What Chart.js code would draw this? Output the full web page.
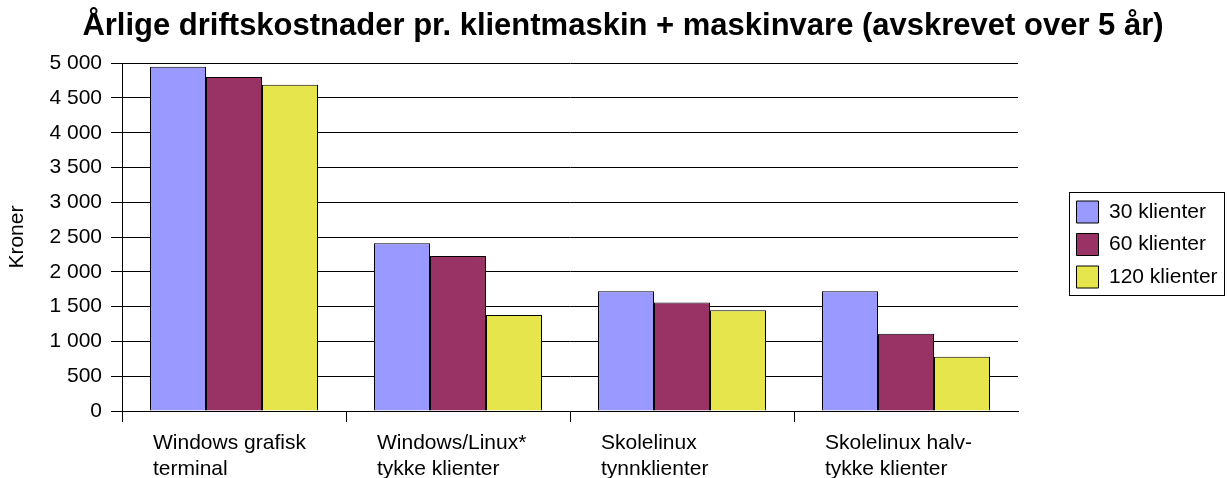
<!DOCTYPE html>
<html>
<head>
<meta charset="utf-8">
<script src="https://cdn.jsdelivr.net/npm/chart.js@4.4.1/dist/chart.umd.min.js"></script>
<style>
  html, body { margin: 0; padding: 0; background: #fff; }
  #wrap { width: 1228px; height: 478px; }
</style>
</head>
<body>
<div id="wrap"><canvas id="bar-chart" width="1228" height="478"></canvas></div>
<script>
const categories = [
  ['Windows grafisk', 'terminal'],
  ['Windows/Linux*', 'tykke klienter'],
  ['Skolelinux', 'tynnklienter'],
  ['Skolelinux halv-', 'tykke klienter']
];
const seriesNames = ['30 klienter', '60 klienter', '120 klienter'];
const values30 = [4950, 2410, 1720, 1720];
const values60 = [4800, 2230, 1560, 1110];
const values120 = [4690, 1380, 1450, 780];
const seriesColors = ['#9999ff', '#993366', '#e6e64c'];

const yMin = 0, yMax = 5000, yStep = 500;

function kroner(v) {
  if (v < 1000) return String(v);
  return Math.floor(v / 1000) + ' ' + String(v % 1000).padStart(3, '0');
}

Chart.defaults.font.family = "'Liberation Sans', Arial, sans-serif";
Chart.defaults.color = '#000';

// nudges legend / title into the places they have in the original
const layoutFix = {
  id: 'layoutFix',
  beforeLayout(chart) {
    const lg = chart.legend;
    if (lg && !lg._fixed) {
      const fit = lg.fit.bind(lg);
      lg.fit = function () { fit(); this.width = 210; };
      lg._fixed = true;
    }
  },
  afterLayout(chart) {
    const lg = chart.legend;
    lg.left += 48; lg.right += 48;
    lg.top += 5.5; lg.bottom += 5.5;
    const t = chart.titleBlock;
    t.left += 9; t.right += 9;
  },
  afterDraw(chart) {
    const hb = chart.legend.legendHitBoxes;
    if (!hb || !hb.length) return;
    const ctx = chart.ctx;
    const x = hb[0].left - 8, y = hb[0].top - 9;
    const h = hb[hb.length - 1].top + 22 + 7 - y;
    ctx.save();
    ctx.strokeStyle = '#000';
    ctx.lineWidth = 1;
    ctx.strokeRect(Math.round(x) + 0.5, Math.round(y) + 0.5, 155, Math.round(h));
    ctx.restore();
  }
};

new Chart(document.getElementById('bar-chart'), {
  type: 'bar',
  data: {
    labels: categories,
    datasets: [
      { label: seriesNames[0], data: values30, backgroundColor: seriesColors[0] },
      { label: seriesNames[1], data: values60, backgroundColor: seriesColors[1] },
      { label: seriesNames[2], data: values120, backgroundColor: seriesColors[2] }
    ]
  },
  options: {
    responsive: false,
    animation: false,
    layout: { padding: 0 },
    datasets: {
      bar: {
        borderColor: '#000',
        borderWidth: 1,
        categoryPercentage: 0.75,
        barPercentage: 1
      }
    },
    plugins: {
      title: {
        display: true,
        text: 'Årlige driftskostnader pr. klientmaskin + maskinvare (avskrevet over 5 år)',
        font: { size: 31, weight: 'bold' },
        color: '#000',
        padding: { top: 8, bottom: 18 }
      },
      legend: {
        position: 'right',
        labels: {
          boxWidth: 22,
          boxHeight: 22,
          padding: 10.5,
          font: { size: 21, lineHeight: 1 },
          color: '#000'
        }
      },
      tooltip: { enabled: false }
    },
    scales: {
      x: {
        offset: true,
        grid: {
          display: true,
          offset: true,
          drawOnChartArea: false,
          drawTicks: true,
          tickLength: 11,
          color: (c) => (c.type === 'tick' ? '#000' : 'rgba(0,0,0,0)')
        },
        border: { display: true, color: '#000' },
        ticks: {
          autoSkip: false,
          maxRotation: 0,
          minRotation: 0,
          align: 'start',
          labelOffset: -81,
          padding: 8,
          font: { size: 21, lineHeight: 1.25 },
          color: '#000'
        },
        afterFit(scale) { scale.height = 67; }
      },
      y: {
        min: yMin,
        max: yMax,
        grid: { color: '#000', tickLength: 11 },
        border: { display: true, color: '#000' },
        ticks: {
          stepSize: yStep,
          padding: 9,
          font: { size: 21 },
          color: '#000',
          callback: (v) => kroner(v)
        },
        title: {
          display: true,
          text: 'Kroner',
          font: { size: 21 },
          color: '#000',
          padding: { top: 5, bottom: 0 }
        },
        afterFit(scale) { scale.width = 122; }
      }
    }
  },
  plugins: [layoutFix]
});
</script>
</body>
</html>
